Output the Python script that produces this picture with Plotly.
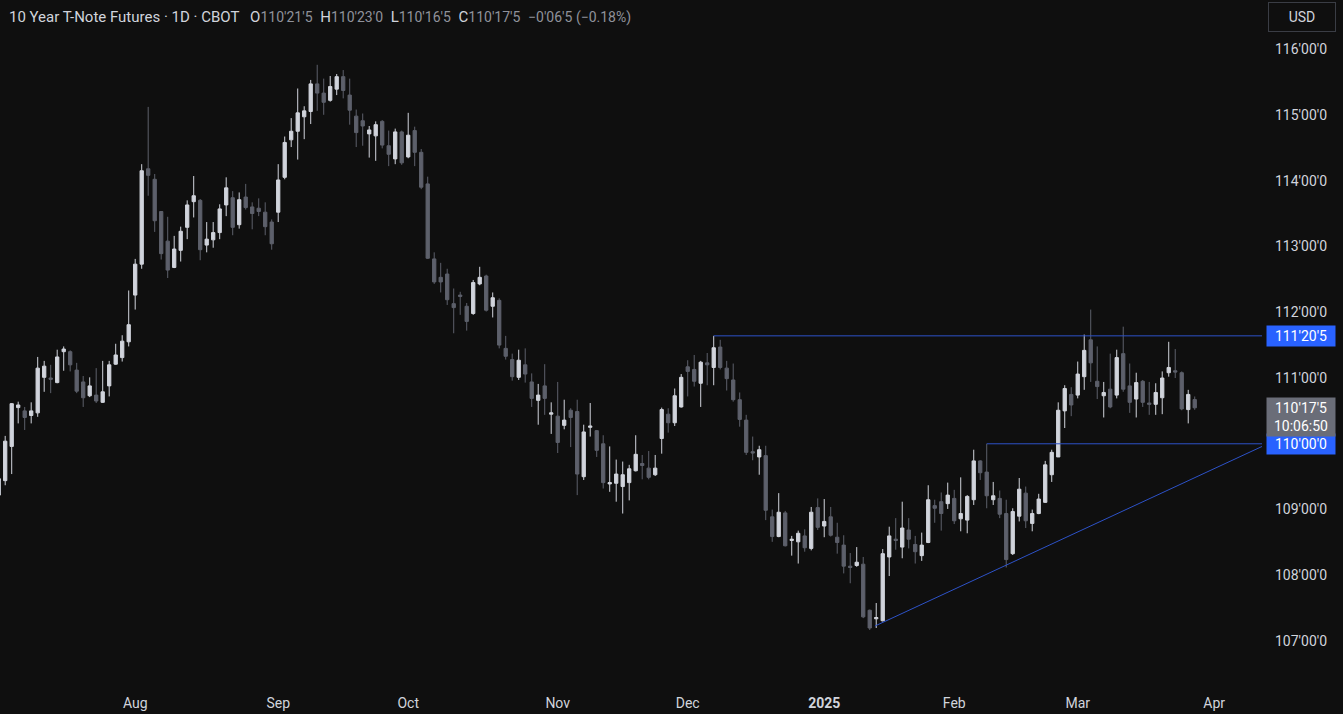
import pandas as pd
import plotly.graph_objects as go

# ---------------- data ----------------
title_text = "10 Year T-Note Futures · 1D · CBOT"
header_labels = ["O", "H", "L", "C"]
header_values = ["110'21'5", "110'23'0", "110'16'5", "110'17'5"]
change_text = "−0'06'5 (−0.18%)"

first_date = "2024-07-02"
holidays = ["2024-07-04", "2024-09-02", "2024-11-28", "2024-12-25",
            "2025-01-01", "2025-01-09", "2025-01-20", "2025-02-17"]

open_ = [109.22, 109.44, 109.96, 110.55, 110.50, 110.43, 110.47, 111.01, 111.00, 110.93,
         111.40, 111.40, 111.12, 110.94, 110.73, 110.74, 110.63, 110.88, 111.21, 111.31,
         111.55, 112.26, 112.73, 114.18, 114.02, 113.53, 113.08, 112.68, 112.94, 113.29,
         113.68, 113.70, 113.02, 113.10, 113.21, 113.63, 113.74, 113.33, 113.75, 113.60,
         113.58, 113.52, 113.37, 113.52, 114.05, 114.62, 114.75, 114.97, 115.05, 115.47,
         115.33, 115.22, 115.39, 115.58, 115.30, 114.98, 114.91, 114.71, 114.68, 114.90,
         114.53, 114.33, 114.74, 114.36, 114.76, 114.43, 113.95, 112.81, 112.53, 112.58,
         112.13, 112.26, 112.09, 111.98, 112.43, 112.55, 112.09, 112.18, 111.45, 111.28,
         111.01, 111.20, 110.94, 110.66, 110.88, 110.45, 110.42, 110.28, 110.51, 110.49,
         109.50, 110.25, 110.20, 110.00, 109.39, 109.40, 109.35, 109.41, 109.59, 109.70,
         109.63, 109.53, 110.08, 110.45, 110.32, 110.56, 111.17, 111.13, 110.92, 111.23,
         111.16, 111.47, 111.15, 110.97, 110.67, 110.36, 109.88, 109.80, 109.82, 108.89,
         108.59, 108.95, 108.53, 108.51, 108.60, 108.41, 109.03, 108.75, 108.89, 108.58,
         108.46, 108.14, 108.15, 108.17, 107.47, 107.34, 107.31, 108.28, 108.55, 108.43,
         108.69, 108.47, 108.30, 108.50, 109.06, 109.12, 109.09, 109.17, 108.86, 108.84,
         109.15, 109.74, 109.57, 109.15, 109.17, 108.94, 108.33, 108.90, 109.25, 108.79,
         108.94, 109.11, 109.53, 109.80, 110.50, 110.75, 110.74, 111.02, 111.58, 110.95,
         110.73, 110.83, 110.74, 111.37, 110.88, 110.68, 110.95, 110.62, 110.60, 110.70,
         111.08, 111.11, 111.08, 110.52, 110.672]

high = [109.49, 110.12, 110.62, 110.64, 110.56, 110.63, 111.32, 111.26, 111.20, 111.43,
        111.48, 111.42, 111.23, 111.03, 111.01, 111.15, 111.26, 111.26, 111.52, 111.65,
        112.33, 112.81, 114.25, 115.12, 114.10, 113.53, 113.45, 113.16, 113.30, 113.70,
        114.07, 113.72, 113.37, 113.37, 113.64, 114.05, 113.84, 113.82, 113.95, 113.67,
        113.73, 113.67, 113.41, 114.25, 114.67, 114.95, 115.40, 115.13, 115.53, 115.76,
        115.55, 115.59, 115.62, 115.68, 115.55, 115.08, 115.02, 114.83, 114.90, 114.92,
        114.76, 114.79, 114.76, 115.03, 114.82, 114.48, 114.06, 112.91, 112.75, 112.66,
        112.36, 112.31, 112.14, 112.49, 112.69, 112.57, 112.30, 112.21, 111.64, 111.37,
        111.43, 111.45, 111.07, 110.91, 111.21, 110.63, 110.94, 110.67, 110.54, 110.67,
        110.29, 110.62, 110.21, 110.13, 109.96, 109.76, 109.73, 109.68, 110.13, 109.83,
        109.89, 109.83, 110.55, 110.54, 110.84, 111.06, 111.27, 111.35, 111.26, 111.38,
        111.64, 111.58, 111.26, 111.22, 110.78, 110.44, 110.11, 109.97, 109.97, 109.00,
        109.25, 108.98, 108.60, 108.68, 108.70, 109.04, 109.17, 109.16, 109.04, 108.80,
        108.61, 108.34, 108.43, 108.28, 107.48, 107.58, 108.40, 108.74, 108.87, 109.12,
        108.87, 108.60, 108.65, 109.37, 109.15, 109.26, 109.41, 109.30, 109.49, 109.22,
        109.91, 109.75, 110.00, 109.42, 109.29, 109.15, 109.02, 109.48, 109.35, 109.00,
        109.24, 109.74, 109.91, 110.63, 110.89, 110.86, 111.25, 111.66, 112.04, 111.48,
        110.94, 111.37, 111.43, 111.78, 111.22, 111.08, 110.97, 110.94, 110.92, 111.10,
        111.55, 111.44, 111.10, 110.82, 110.719]

low = [109.20, 109.37, 109.54, 110.31, 110.21, 110.31, 110.41, 110.79, 110.77, 110.92,
       111.11, 111.10, 110.77, 110.56, 110.71, 110.62, 110.62, 110.72, 111.20, 111.25,
       111.48, 112.04, 112.66, 113.77, 113.22, 112.80, 112.52, 112.67, 112.77, 113.11,
       113.44, 112.79, 112.91, 112.98, 113.11, 113.46, 113.17, 113.27, 113.56, 113.26,
       113.46, 113.17, 112.95, 113.37, 114.02, 114.51, 114.32, 114.63, 114.86, 115.06,
       115.00, 115.20, 115.30, 115.25, 114.85, 114.51, 114.53, 114.35, 114.30, 114.49,
       114.22, 114.25, 114.24, 114.34, 114.22, 113.87, 112.81, 112.43, 112.30, 112.11,
       111.68, 111.96, 111.72, 111.96, 112.41, 112.01, 111.92, 111.45, 111.28, 110.96,
       110.97, 110.93, 110.56, 110.29, 110.44, 110.15, 109.86, 110.22, 109.95, 109.22,
       109.45, 110.11, 109.80, 109.32, 109.27, 109.12, 108.94, 109.14, 109.58, 109.46,
       109.46, 109.51, 109.85, 110.17, 110.27, 110.55, 110.72, 110.87, 110.56, 110.89,
       110.89, 111.13, 110.81, 110.64, 110.26, 109.83, 109.75, 109.53, 108.84, 108.51,
       108.58, 108.44, 108.30, 108.18, 108.36, 108.38, 108.69, 108.58, 108.59, 108.33,
       108.03, 107.88, 108.13, 107.35, 107.17, 107.20, 107.30, 107.99, 108.39, 108.26,
       108.41, 108.18, 108.22, 108.49, 108.80, 108.68, 109.01, 108.78, 108.67, 108.64,
       109.07, 109.45, 109.02, 109.07, 108.87, 108.12, 108.31, 108.82, 108.72, 108.67,
       108.93, 109.10, 109.42, 109.80, 110.24, 110.42, 110.69, 110.82, 110.94, 110.68,
       110.40, 110.54, 110.69, 110.79, 110.47, 110.40, 110.56, 110.44, 110.44, 110.45,
       111.02, 111.00, 110.51, 110.31, 110.516]

close = [109.47, 110.04, 110.61, 110.59, 110.40, 110.50, 111.15, 111.18, 110.98, 111.32,
         111.44, 111.20, 110.80, 110.70, 110.88, 110.65, 110.79, 111.20, 111.35, 111.56,
         111.81, 112.73, 114.15, 114.08, 113.39, 112.89, 112.64, 112.96, 113.23, 113.63,
         113.77, 112.95, 113.11, 113.21, 113.57, 113.89, 113.29, 113.71, 113.59, 113.50,
         113.53, 113.30, 113.04, 114.01, 114.58, 114.75, 115.03, 115.06, 115.47, 115.33,
         115.19, 115.43, 115.58, 115.37, 115.07, 114.73, 114.83, 114.77, 114.85, 114.54,
         114.40, 114.74, 114.27, 114.69, 114.43, 113.90, 112.82, 112.46, 112.46, 112.19,
         112.07, 112.24, 111.86, 112.45, 112.53, 112.03, 112.22, 111.50, 111.33, 111.02,
         111.27, 111.06, 110.69, 110.74, 110.69, 110.47, 110.02, 110.36, 110.40, 109.54,
         110.18, 110.27, 109.90, 109.41, 109.41, 109.54, 109.53, 109.62, 109.84, 109.67,
         109.49, 109.63, 110.52, 110.32, 110.73, 111.01, 111.10, 110.95, 111.24, 111.20,
         111.46, 111.16, 110.99, 110.67, 110.37, 109.87, 109.86, 109.91, 108.99, 108.59,
         108.96, 108.45, 108.55, 108.64, 108.42, 108.96, 108.73, 108.82, 108.61, 108.50,
         108.14, 108.12, 108.20, 107.37, 107.20, 107.36, 108.33, 108.60, 108.53, 108.72,
         108.55, 108.36, 108.46, 109.15, 109.02, 108.94, 109.22, 108.83, 108.94, 109.20,
         109.74, 109.56, 109.21, 109.21, 108.93, 108.24, 108.97, 109.31, 108.83, 108.94,
         109.16, 109.68, 109.87, 110.51, 110.84, 110.59, 111.06, 111.42, 111.23, 110.87,
         110.78, 110.56, 111.31, 110.83, 110.63, 110.93, 110.63, 110.60, 110.78, 111.00,
         111.16, 111.09, 110.53, 110.75, 110.547]

month_labels = ["Aug", "Sep", "Oct", "Nov", "Dec", "<b>2025</b>", "Feb", "Mar", "Apr"]
price_ticks = [107, 108, 109, 110, 111, 112, 113, 114, 115, 116]
price_tick_text = ["107'00'0", "108'00'0", "109'00'0", "110'00'0", "111'00'0",
                   "112'00'0", "113'00'0", "114'00'0", "115'00'0", "116'00'0"]

# drawings
resistance_level = 111.640625      # 111'20'5
resistance_text = "111'20'5"
resistance_from_bar = 110
support_level = 110.0
support_text = "110'00'0"
support_from_bar = 152
trend_x = [134.8, 194.8]
trend_y = [107.23, 109.98]
last_price = 110.546875
last_price_text = "110'17'5"
countdown_text = "10:06:50"

# ---------------- styling ----------------
BG = "#0f0f0f"
UP = "#d1d4dc"
DOWN = "#5d606b"
TXT = "#d1d4dc"
VAL = "#8f929b"
BLUE = "#2962ff"
LINE_BLUE = "#2d52c8"
FONT = "Roboto, Liberation Sans, sans-serif"

W, H = 1343, 714
M_L, M_R, M_T, M_B = 0, 81, 0, 24
PLOT_W = W - M_L - M_R
PLOT_H = H - M_T - M_B

# trading-day positions for x
n = len(close)
dates = pd.bdate_range(first_date, periods=n + 8, freq="C", holidays=holidays)
xs = list(range(n))
tick_pos = [i for i in range(1, len(dates)) if dates[i].month != dates[i - 1].month]
tick_pos = tick_pos[:len(month_labels)]

fig = go.Figure()
fig.add_trace(go.Candlestick(
    x=xs, open=open_, high=high, low=low, close=close,
    increasing=dict(line=dict(color=UP, width=1), fillcolor=UP),
    decreasing=dict(line=dict(color=DOWN, width=1), fillcolor=DOWN),
    whiskerwidth=0, hoverinfo="skip", showlegend=False,
))

x_range = [0.2, 194.35]
x_end = x_range[1]

shapes = [
    dict(type="line", xref="x", yref="y", x0=resistance_from_bar, x1=x_end,
         y0=resistance_level, y1=resistance_level, line=dict(color=LINE_BLUE, width=1)),
    dict(type="line", xref="x", yref="y", x0=support_from_bar, x1=x_end,
         y0=support_level, y1=support_level, line=dict(color=LINE_BLUE, width=1)),
    dict(type="line", xref="x", yref="y", x0=trend_x[0], x1=trend_x[1],
         y0=trend_y[0], y1=trend_y[1], line=dict(color=LINE_BLUE, width=1)),
]

header = (f'<span style="color:{TXT}">{title_text}</span>\u2002\u2009')
for lab, val in zip(header_labels, header_values):
    header += (f'<span style="color:{TXT}">{lab}</span>'
               f'<span style="color:{VAL};font-size:14px">{val}</span>\u2002')
header += f'<span style="color:{VAL};font-size:14px">{change_text}</span>'

annotations = [
    dict(xref="paper", yref="paper", x=7 / PLOT_W, y=1 - 17 / PLOT_H,
         xanchor="left", yanchor="middle", text=header, showarrow=False,
         font=dict(family=FONT, size=15, color=TXT)),
    dict(xref="paper", yref="y", x=1, xshift=4, xanchor="left", y=resistance_level,
         yanchor="middle", text=resistance_text, showarrow=False, bgcolor=BLUE,
         width=64, borderpad=2, font=dict(family=FONT, size=14, color="#ffffff")),
    dict(xref="paper", yref="y", x=1, xshift=4, xanchor="left", y=support_level,
         yanchor="middle", text=support_text, showarrow=False, bgcolor=BLUE,
         width=64, borderpad=2, font=dict(family=FONT, size=14, color="#ffffff")),
    dict(xref="paper", yref="y", x=1, xshift=4, xanchor="left", y=last_price,
         yanchor="top", yshift=11, text=f"{last_price_text}<br>{countdown_text}",
         showarrow=False, bgcolor="#6a6d78", width=64, borderpad=2,
         font=dict(family=FONT, size=14, color="#ffffff")),
    dict(xref="paper", yref="paper", x=(1302 - M_L) / PLOT_W, y=1 - 17 / PLOT_H,
         xanchor="center", yanchor="middle", text="USD", showarrow=False,
         bordercolor="#3a3d45", borderwidth=1, borderpad=6, width=54,
         font=dict(family=FONT, size=14, color=TXT)),
]

fig.update_layout(
    width=W, height=H,
    margin=dict(l=M_L, r=M_R, t=M_T, b=M_B),
    paper_bgcolor=BG, plot_bgcolor=BG,
    font=dict(family=FONT, size=14, color=TXT),
    showlegend=False,
    boxgap=0.28,
    shapes=shapes,
    annotations=annotations,
    xaxis=dict(range=x_range, showgrid=False, zeroline=False, showline=False,
               tickvals=tick_pos, ticktext=month_labels, ticks="",
               ticklabelstandoff=3,
               tickfont=dict(family=FONT, size=14, color=TXT),
               rangeslider=dict(visible=False), fixedrange=True),
    yaxis=dict(side="right", range=[106.258, 116.745], showgrid=False, zeroline=False,
               showline=False, tickvals=price_ticks, ticktext=price_tick_text, ticks="",
               ticklabelstandoff=12,
               tickfont=dict(family=FONT, size=14, color=TXT), fixedrange=True),
)

fig.write_html(
    "out.html",
    config={"displayModeBar": False},
    post_script="document.body.style.margin='0';document.body.style.background='#0f0f0f';",
)
